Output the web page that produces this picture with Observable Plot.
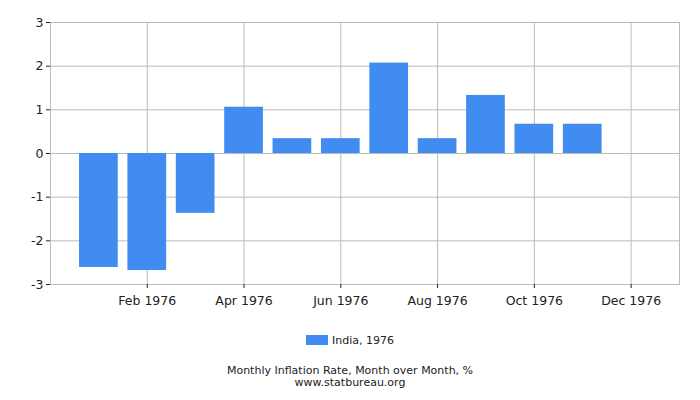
<!DOCTYPE html>
<html>
<head>
<meta charset="utf-8">
<script src="https://cdn.jsdelivr.net/npm/d3@7"></script>
<script src="https://cdn.jsdelivr.net/npm/@observablehq/plot@0.6"></script>
<style>
  body { margin: 0; background: #fff; font-family: "DejaVu Sans", sans-serif; }
  #wrap { position: relative; width: 700px; height: 400px; }
  #legend { position: absolute; top: 334px; left: 0; width: 700px; text-align: center; font-size: 11px; color: #222; }
  #legend .sw { display: inline-block; width: 22px; height: 10px; background: #418cf0; vertical-align: middle; margin-right: 4px; position: relative; top: -1px; }
  .cap { position: absolute; left: 0; width: 700px; text-align: center; font-size: 11px; color: #222; line-height: 11px; }
  #cap1 { top: 365px; }
  #cap2 { top: 376.5px; }
</style>
</head>
<body>
<div id="wrap">
  <div id="chart"></div>
  <div id="legend"><span class="sw"></span>India, 1976</div>
  <div class="cap" id="cap1">Monthly Inflation Rate, Month over Month, %</div>
  <div class="cap" id="cap2">www.statbureau.org</div>
</div>
<script>
const months = ["Jan", "Feb", "Mar", "Apr", "May", "Jun", "Jul", "Aug", "Sep", "Oct", "Nov"];
const monthIndex = [1, 2, 3, 4, 5, 6, 7, 8, 9, 10, 11];
const values = [-2.61, -2.68, -1.37, 1.06, 0.34, 0.34, 2.07, 0.34, 1.33, 0.67, 0.67];
const xTicks = [2, 4, 6, 8, 10, 12];
const xTickLabels = ["Feb 1976", "Apr 1976", "Jun 1976", "Aug 1976", "Oct 1976", "Dec 1976"];
const yTicks = [-3, -2, -1, 0, 1, 2, 3];

const data = months.map((m, i) => ({month: m, m: monthIndex[i], v: values[i]}));
const half = 0.4;

const chart = Plot.plot({
  width: 700,
  height: 315,
  marginLeft: 50,
  marginRight: 21,
  marginTop: 22,
  marginBottom: 31,
  style: {fontFamily: "DejaVu Sans, sans-serif", fontSize: "12.5px", color: "#222", background: "#fff"},
  x: {domain: [0, 13]},
  y: {domain: [-3, 3]},
  marks: [
    Plot.gridY(yTicks, {stroke: "#bbb", strokeOpacity: 1}),
    Plot.gridX(xTicks, {stroke: "#bbb", strokeOpacity: 1}),
    Plot.frame({stroke: "#bbb"}),
    Plot.rectY(data, {x1: d => d.m - half, x2: d => d.m + half, y1: 0, y2: "v", fill: "#418cf0"}),
    Plot.axisY(yTicks, {tickSize: 4, tickPadding: 3, tickFormat: d => String(d), label: null, stroke: "#222"}),
    Plot.axisX(xTicks, {tickSize: 4, tickPadding: 8, tickFormat: d => xTickLabels[xTicks.indexOf(d)], label: null, stroke: "#222"})
  ]
});
document.getElementById("chart").appendChild(chart);
</script>
</body>
</html>
